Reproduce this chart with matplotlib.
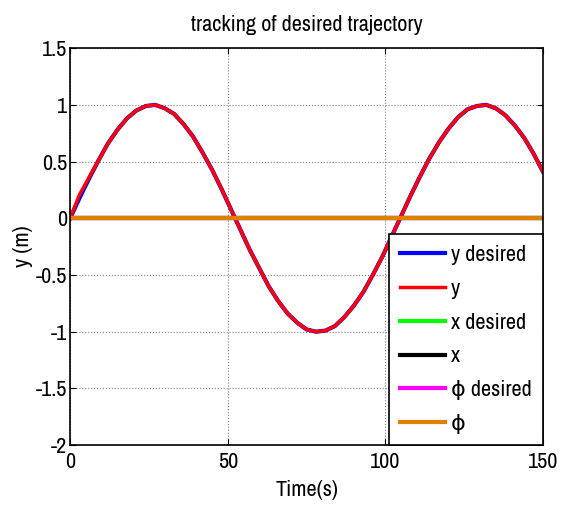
import matplotlib
matplotlib.use('Agg')
import matplotlib.pyplot as plt
from matplotlib import font_manager

fams = set(f.name for f in font_manager.fontManager.ttflist)
narrow = 'Liberation Sans'
for cand in ['Liberation Sans Narrow', 'Arial Narrow', 'Archivo Narrow']:
    if cand in fams:
        narrow = cand
        break
plt.rcParams['font.family'] = [narrow, 'DejaVu Sans']

t = [0, 3, 6, 9, 12, 15, 18, 21, 24, 27, 30, 33, 36, 39, 42, 45, 48, 51,
     54, 57, 60, 63, 66, 69, 72, 75, 78, 81, 84, 87, 90, 93, 96, 99, 102,
     105, 108, 111, 114, 117, 120, 123, 126, 129, 132, 135, 138, 141, 144,
     147, 150]
y_desired = [0.0, 0.18, 0.35, 0.51, 0.66, 0.78, 0.88, 0.95, 0.99, 1.0, 0.97,
             0.92, 0.83, 0.72, 0.58, 0.43, 0.26, 0.08, -0.10, -0.28, -0.44,
             -0.60, -0.73, -0.84, -0.92, -0.98, -1.0, -0.99, -0.95, -0.87,
             -0.77, -0.65, -0.50, -0.34, -0.16, 0.02, 0.20, 0.37, 0.53, 0.67,
             0.79, 0.89, 0.96, 0.99, 1.0, 0.97, 0.91, 0.82, 0.71, 0.57, 0.41]
y_actual = [0.0, 0.21, 0.36, 0.51, 0.66, 0.78, 0.88, 0.95, 0.99, 1.0, 0.97,
            0.92, 0.83, 0.72, 0.58, 0.43, 0.26, 0.08, -0.10, -0.28, -0.44,
            -0.60, -0.73, -0.84, -0.92, -0.98, -1.0, -0.99, -0.95, -0.87,
            -0.77, -0.65, -0.50, -0.34, -0.16, 0.02, 0.20, 0.37, 0.53, 0.67,
            0.79, 0.89, 0.96, 0.99, 1.0, 0.97, 0.91, 0.82, 0.71, 0.57, 0.41]
x_desired = [0.0] * len(t)
x_actual = [0.0] * len(t)
phi_desired = [0.0] * len(t)
phi_actual = [0.0] * len(t)

fig = plt.figure(figsize=(5.61, 5.07), dpi=100)
ax = fig.add_axes([0.125, 0.122, 0.843, 0.783])

lw = 3
ax.plot(t, y_desired, color='#0000ff', lw=lw, label='y desired')
ax.plot(t, y_actual, color='#ff0000', lw=lw - 0.5, label='y')
ax.plot(t, x_desired, color='#00ff00', lw=lw, label='x desired')
ax.plot(t, x_actual, color='#000000', lw=lw, label='x')
ax.plot(t, phi_desired, color='#ff00ff', lw=lw, label='\u03d5 desired')
ax.plot(t, phi_actual, color='#e08000', lw=lw, label='\u03d5')

ax.set_xlim(0, 150)
ax.set_ylim(-2, 1.5)
ax.set_xticks([0, 50, 100, 150])
ax.set_yticks([-2, -1.5, -1, -0.5, 0, 0.5, 1, 1.5])
ax.set_yticklabels(['-2', '-1.5', '-1', '-0.5', '0', '0.5', '1', '1.5'])
ax.tick_params(direction='in', top=True, right=True, labelsize=16, length=4, pad=2)
ax.tick_params(axis='x', pad=5)
ax.grid(True, color='#808080', linestyle=':', linewidth=0.8)
for s in ax.spines.values():
    s.set_linewidth(1.2)

ax.set_title('tracking of desired trajectory', fontsize=16, pad=12)
ax.set_xlabel('Time(s)', fontsize=16, labelpad=6)
ax.set_ylabel('y (m)', fontsize=16, labelpad=2)

leg = ax.legend(loc='lower right', fontsize=16, fancybox=False, framealpha=1,
                edgecolor='black', borderaxespad=0, handlelength=2.0,
                labelspacing=0.62, handletextpad=0.3, borderpad=0.5)
leg.get_frame().set_linewidth(1.2)

fig.savefig('out.png', dpi=100)
